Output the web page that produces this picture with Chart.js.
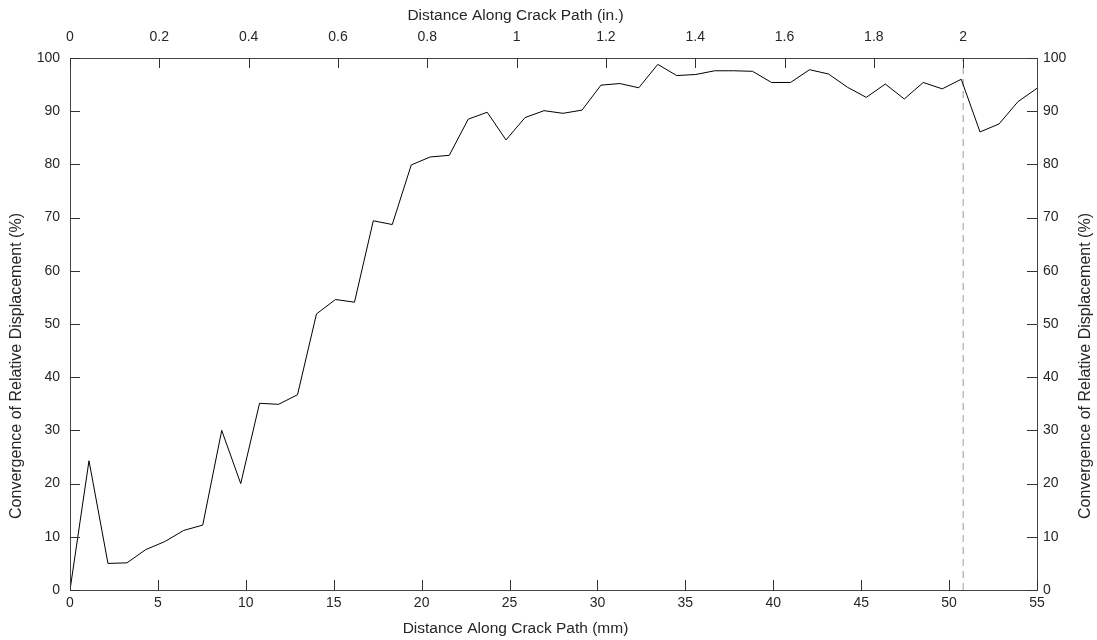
<!DOCTYPE html>
<html>
<head>
<meta charset="utf-8">
<script src="https://cdn.jsdelivr.net/npm/chart.js@4"></script>
<style>
  html, body { margin: 0; padding: 0; background: #fff; }
  #wrap { width: 1097px; height: 640px; }
</style>
</head>
<body>
<div id="wrap"><canvas id="crack-chart"></canvas></div>
<script>
// distance along crack path (mm)
var distanceMm = [
    0, 1.08, 2.16, 3.24, 4.31, 5.39, 6.47, 7.55, 8.63, 9.71,
    10.78, 11.86, 12.94, 14.02, 15.10, 16.18, 17.25, 18.33, 19.41, 20.49,
    21.57, 22.65, 23.73, 24.80, 25.88, 26.96, 28.04, 29.12, 30.20, 31.27,
    32.35, 33.43, 34.51, 35.59, 36.67, 37.75, 38.82, 39.90, 40.98, 42.06,
    43.14, 44.22, 45.29, 46.37, 47.45, 48.53, 49.61, 50.69, 51.76, 52.84,
    53.92, 55.00
];
// convergence of relative displacement (%)
var convergence = [
    0, 24.3, 5.0, 5.1, 7.6, 9.1, 11.2, 12.2, 30.0, 20.0,
    35.1, 34.9, 36.7, 51.9, 54.6, 54.1, 69.4, 68.7, 79.9, 81.4,
    81.7, 88.5, 89.8, 84.6, 88.8, 90.1, 89.6, 90.2, 94.9, 95.2,
    94.4, 98.8, 96.7, 96.9, 97.6, 97.6, 97.5, 95.4, 95.4, 97.8,
    97.0, 94.5, 92.6, 95.1, 92.3, 95.4, 94.2, 96.0, 86.1, 87.6,
    91.8, 94.3
];
// dashed marker at 2 in.
var markerMm = 50.8;
var markerY = [0, 100];

var mmMax = 55;
var mmPerInch = 25.4;

var xTitleBottom = 'Distance Along Crack Path (mm)';
var xTitleTop = 'Distance Along Crack Path (in.)';
var yTitle = 'Convergence of Relative Displacement (%)';

var points = [];
distanceMm.forEach(function(d, i) {
    points.push({ x: d, y: convergence[i] });
});

var markerPoints = markerY.map(function(v) {
    return { x: markerMm, y: v };
});

var textColor = '#262626';
var fontFamily = 'Liberation Sans, Arial, sans-serif';
var tickFont = { family: fontFamily, size: 14 };

// small ticks drawn inward from the frame
var innerTicks = {
    id: 'innerTicks',
    afterDraw: function(chart) {
        var ctx = chart.ctx;
        var area = chart.chartArea;
        var len = 10;
        ctx.save();
        ctx.strokeStyle = '#333';
        ctx.lineWidth = 1;
        ['x', 'x2', 'y', 'y2'].forEach(function(id) {
            var scale = chart.scales[id];
            scale.ticks.forEach(function(t) {
                var p = Math.round(scale.getPixelForValue(t.value)) + 0.5;
                ctx.beginPath();
                if (id == 'x') {
                    ctx.moveTo(p, area.bottom); ctx.lineTo(p, area.bottom - len);
                } else if (id == 'x2') {
                    ctx.moveTo(p, area.top); ctx.lineTo(p, area.top + len);
                } else if (id == 'y') {
                    ctx.moveTo(area.left, p); ctx.lineTo(area.left + len, p);
                } else {
                    ctx.moveTo(area.right, p); ctx.lineTo(area.right - len, p);
                }
                ctx.stroke();
            });
        });
        ctx.restore();
    }
};

// axis titles: both vertical ones read bottom-to-top, and they sit off-centre like the original
var axisTitles = {
    id: 'axisTitles',
    afterDraw: function(chart) {
        var ctx = chart.ctx;
        var area = chart.chartArea;
        var cx = (area.left + area.right) / 2 - 38;
        var cy = (area.top + area.bottom) / 2 + 42;
        ctx.save();
        ctx.fillStyle = textColor;
        ctx.textAlign = 'center';
        ctx.textBaseline = 'middle';
        ctx.font = '15.5px ' + fontFamily;
        ctx.fillText(xTitleTop, cx, 16);
        ctx.fillText(xTitleBottom, cx, chart.height - 11);
        ctx.font = '16px ' + fontFamily;
        [17, chart.width - 11].forEach(function(x) {
            ctx.save();
            ctx.translate(x, cy);
            ctx.rotate(-Math.PI / 2);
            ctx.fillText(yTitle, 0, 0);
            ctx.restore();
        });
        ctx.restore();
    }
};

function fitTo(size) {
    return function(scale) {
        if (scale.isHorizontal()) {
            scale.height = size;
        } else {
            scale.width = size;
        }
    };
}

var axisCommon = {
    grid: { display: true, drawOnChartArea: false, drawTicks: false },
    border: { display: true, color: '#444', width: 1 }
};

var ctx = document.getElementById('crack-chart');
var crackChart = new Chart(ctx, {
    type: 'line',
    data: {
        datasets: [{
            data: points,
            xAxisID: 'x',
            yAxisID: 'y',
            borderColor: '#000',
            borderWidth: 1,
            pointRadius: 0,
            tension: 0,
            fill: false
        }, {
            data: markerPoints,
            xAxisID: 'x',
            yAxisID: 'y',
            borderColor: '#9a9a9a',
            borderWidth: 1,
            borderDash: [7, 5],
            pointRadius: 0,
            fill: false
        }]
    },
    options: {
        responsive: true,
        maintainAspectRatio: false,
        animation: false,
        events: [],
        layout: { padding: 0 },
        plugins: {
            legend: { display: false },
            tooltip: { enabled: false }
        },
        scales: {
            x: Object.assign({}, axisCommon, {
                type: 'linear',
                position: 'bottom',
                min: 0,
                max: mmMax,
                afterFit: fitTo(50),
                ticks: { stepSize: 5, color: textColor, font: tickFont, padding: 5, maxRotation: 0 }
            }),
            x2: Object.assign({}, axisCommon, {
                type: 'linear',
                position: 'top',
                min: 0,
                max: mmMax / mmPerInch,
                afterFit: fitTo(58),
                ticks: {
                    stepSize: 0.2, includeBounds: false, color: textColor, font: tickFont, padding: 12, maxRotation: 0,
                    callback: function(v) { return String(Number(v.toFixed(1))); }
                }
            }),
            y: Object.assign({}, axisCommon, {
                type: 'linear',
                position: 'left',
                min: 0,
                max: 100,
                afterFit: fitTo(70),
                ticks: { stepSize: 10, color: textColor, font: tickFont, padding: 10 }
            }),
            y2: Object.assign({}, axisCommon, {
                type: 'linear',
                position: 'right',
                min: 0,
                max: 100,
                afterFit: fitTo(60),
                ticks: { stepSize: 10, color: textColor, font: tickFont, padding: 6 }
            })
        }
    },
    plugins: [innerTicks, axisTitles]
});
</script>
</body>
</html>
